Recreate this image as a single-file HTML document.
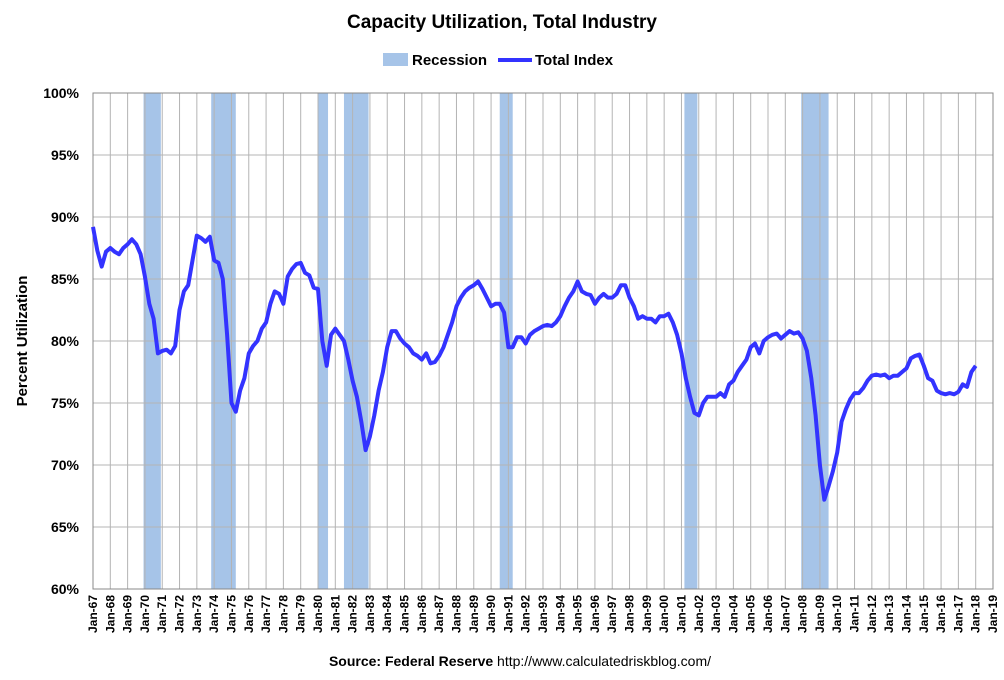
<!DOCTYPE html>
<html><head><meta charset="utf-8"><style>
html,body{margin:0;padding:0;background:#fff;}
svg{display:block;font-family:"Liberation Sans",Arial,sans-serif;}
</style></head><body>
<svg id="chart" width="1004" height="680">
<text x="502" y="28" text-anchor="middle" font-size="19" font-weight="bold">Capacity Utilization, Total Industry</text>
<g>
<rect x="383" y="53" width="25" height="13" fill="#a6c4e8"/>
<text x="412" y="65" font-size="15" font-weight="bold">Recession</text>
<line x1="498" y1="60" x2="532" y2="60" stroke="#3333ff" stroke-width="4"/>
<text x="535" y="65" font-size="15" font-weight="bold">Total Index</text>
</g>
<text transform="translate(27,341) rotate(-90)" text-anchor="middle" font-size="15" font-weight="bold">Percent Utilization</text>
<text x="520" y="666" text-anchor="middle" font-size="14"><tspan font-weight="bold">Source: Federal Reserve</tspan>  http://www.calculatedriskblog.com/</text>
<g id="plot"></g>
</svg>
<script>
const recessions=[[1969.92,1970.92],[1973.83,1975.25],[1980.0,1980.58],[1981.5,1982.92],[1990.5,1991.25],[2001.17,2001.92],[2007.92,2009.5]];
const yTicks=[60,65,70,75,80,85,90,95,100];
const startYear=1967;
const values=[
89.2,87.3,86.0,87.2, 87.5,87.2,87.0,87.5, 87.8,88.2,87.8,87.0, 85.2,83.0,81.8,79.0,
79.2,79.3,79.0,79.6, 82.5,84.0,84.5,86.5, 88.5,88.3,88.0,88.4, 86.5,86.3,85.0,80.5,
75.0,74.3,76.0,77.0, 79.0,79.6,80.0,81.0, 81.5,83.0,84.0,83.8, 83.0,85.2,85.8,86.2,
86.3,85.5,85.3,84.3, 84.2,80.0,78.0,80.5, 81.0,80.5,80.0,78.5, 76.8,75.5,73.5,71.2,
72.3,74.0,76.0,77.5, 79.5,80.8,80.8,80.2, 79.8,79.5,79.0,78.8, 78.5,79.0,78.2,78.3,
78.8,79.5,80.5,81.5, 82.8,83.5,84.0,84.3, 84.5,84.8,84.2,83.5, 82.8,83.0,83.0,82.3,
79.5,79.5,80.3,80.3, 79.8,80.5,80.8,81.0, 81.2,81.3,81.2,81.5, 82.0,82.8,83.5,84.0,
84.8,84.0,83.8,83.7, 83.0,83.5,83.8,83.5, 83.5,83.8,84.5,84.5, 83.5,82.8,81.8,82.0,
81.8,81.8,81.5,82.0, 82.0,82.2,81.5,80.5, 79.0,77.0,75.5,74.2, 74.0,75.0,75.5,75.5,
75.5,75.8,75.5,76.5, 76.8,77.5,78.0,78.5, 79.5,79.8,79.0,80.0, 80.3,80.5,80.6,80.2,
80.5,80.8,80.6,80.7, 80.2,79.2,77.0,74.0, 70.0,67.2,68.3,69.5, 71.0,73.5,74.5,75.3,
75.8,75.8,76.2,76.8, 77.2,77.3,77.2,77.3, 77.0,77.2,77.2,77.5, 77.8,78.6,78.8,78.9,
78.0,77.0,76.8,76.0, 75.8,75.7,75.8,75.7, 75.9,76.5,76.3,77.5, 78.0];
const NS="http://www.w3.org/2000/svg";
const L=93,R=993,T=93,B=589,Y0=1967,Y1=2019;
const xs=t=>L+(t-Y0)/(Y1-Y0)*(R-L);
const ys=v=>B-(v-60)/40*(B-T);
const g=document.getElementById('plot');
function mk(tag,attrs){const e=document.createElementNS(NS,tag);for(const k in attrs)e.setAttribute(k,attrs[k]);g.appendChild(e);return e;}
recessions.forEach(r=>{const e=mk('rect',{x:xs(r[0]),y:T,width:xs(r[1])-xs(r[0]),height:B-T,fill:'#a6c4e8'});

});
for(let y=Y0;y<=Y1;y++){const e=mk('line',{x1:xs(y),x2:xs(y),y1:T,y2:B,stroke:'#b4b4b4','stroke-width':1});


const t=mk('text',{transform:`translate(${xs(y)+4},${B+6}) rotate(-90)`,'text-anchor':'end','font-size':12,'font-weight':'bold'});
t.textContent='Jan-'+String(y%100).padStart(2,'0');

}
yTicks.forEach(v=>{const e=mk('line',{x1:L,x2:R,y1:ys(v),y2:ys(v),stroke:'#b4b4b4','stroke-width':1});


const t=mk('text',{x:L-14,y:ys(v)+5,'text-anchor':'end','font-size':14,'font-weight':'bold'});
t.textContent=v+'%';

});
const border=mk('rect',{x:L,y:T,width:R-L,height:B-T,fill:'none',stroke:'#888','stroke-width':1});


const pts=values.map((v,i)=>xs(startYear+i*0.25).toFixed(1)+','+ys(v).toFixed(1)).join(' ');
const line=mk('polyline',{points:pts,fill:'none',stroke:'#3333ff','stroke-width':4,'stroke-linejoin':'round'});


</script>
</body></html>
